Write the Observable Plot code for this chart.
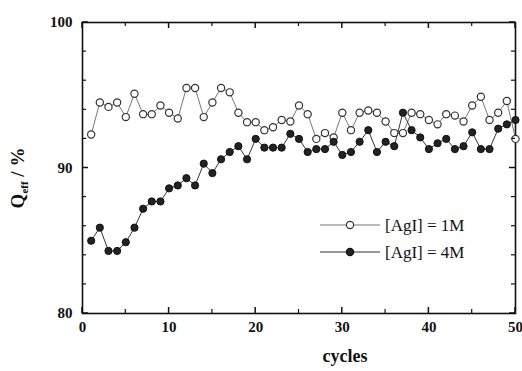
<!DOCTYPE html>
<html>
<head>
<meta charset="utf-8">
<script src="https://cdn.jsdelivr.net/npm/d3@7"></script>
<script src="https://cdn.jsdelivr.net/npm/@observablehq/plot@0.6"></script>
<style>
  html, body { margin: 0; padding: 0; background: #fff; }
  #chart { position: relative; width: 522px; height: 371px; }
</style>
</head>
<body>
<div id="chart"></div>
<script>
const cycles = [1,2,3,4,5,6,7,8,9,10,11,12,13,14,15,16,17,18,19,20,21,22,23,24,25,26,27,28,29,30,31,32,33,34,35,36,37,38,39,40,41,42,43,44,45,46,47,48,49,50];
const q1M = [92.3,94.5,94.2,94.5,93.5,95.1,93.7,93.7,94.3,93.8,93.4,95.5,95.5,93.5,94.5,95.5,95.2,93.8,93.15,93.15,92.6,92.8,93.3,93.2,94.3,93.7,92.0,92.4,92.1,93.8,92.6,93.8,93.95,93.8,93.2,92.4,92.4,93.8,93.7,93.3,93.0,93.7,93.6,93.2,94.3,94.9,93.3,93.8,94.6,92.0];
const q4M = [85.0,85.9,84.3,84.3,84.9,85.9,87.2,87.7,87.7,88.6,88.8,89.3,88.8,90.3,89.65,90.6,91.1,91.5,90.6,92.0,91.4,91.4,91.4,92.35,92.0,91.1,91.3,91.3,91.8,90.9,91.1,91.8,92.6,91.1,91.8,91.5,93.8,92.6,92.1,91.3,91.7,92.0,91.3,91.5,92.45,91.3,91.3,92.7,93.0,93.3];
const seriesNames = ["[AgI] = 1M", "[AgI] = 4M"];
const xTicks = [0,10,20,30,40,50];
const xMinor = [5,15,25,35,45];
const yTicks = [80,90,100];
const yMinor = [82,84,86,88,92,94,96,98];

const d1 = cycles.map((c, i) => ({cycle: c, q: q1M[i]}));
const d4 = cycles.map((c, i) => ({cycle: c, q: q4M[i]}));

const W = 522, H = 371, ML = 82, MR = 7, MT = 22, MB = 58;

const plot = Plot.plot({
  width: W,
  height: H,
  marginLeft: ML,
  marginRight: MR,
  marginTop: MT,
  marginBottom: MB,
  x: {domain: [0, 50]},
  y: {domain: [80, 100]},
  style: {fontFamily: "'Liberation Serif', serif", fontSize: "15px", fontWeight: "bold", color: "#111", background: "#fff"},
  marks: [
    Plot.axisX(xTicks, {anchor: "bottom", tickSize: 0, tickPadding: 8, label: null}),
    Plot.axisY(yTicks, {anchor: "left", tickSize: 0, tickPadding: 10, label: null}),
    Plot.frame({stroke: "#111", strokeWidth: 1.6}),
    Plot.line(d1, {x: "cycle", y: "q", stroke: "#777", strokeWidth: 1}),
    Plot.line(d4, {x: "cycle", y: "q", stroke: "#333", strokeWidth: 1}),
    Plot.dot(d1, {x: "cycle", y: "q", r: 3.6, stroke: "#333", strokeWidth: 1.2, fill: "#fff"}),
    Plot.dot(d4, {x: "cycle", y: "q", r: 3.6, stroke: "#111", strokeWidth: 1, fill: "#222"})
  ]
});

document.getElementById("chart").appendChild(plot);

const svg = d3.select(plot);
const sx = plot.scale("x"), sy = plot.scale("y");
const x0 = sx.apply(0), x1 = sx.apply(50), y0 = sy.apply(80), y1 = sy.apply(100);
const tg = svg.append("g").attr("stroke", "#111");
function tickX(values, len, w) {
  values.forEach(v => {
    const x = sx.apply(v);
    tg.append("line").attr("x1", x).attr("x2", x).attr("y1", y0).attr("y2", y0 - len).attr("stroke-width", w);
    tg.append("line").attr("x1", x).attr("x2", x).attr("y1", y1).attr("y2", y1 + len).attr("stroke-width", w);
  });
}
function tickY(values, len, w) {
  values.forEach(v => {
    const y = sy.apply(v);
    tg.append("line").attr("x1", x0).attr("x2", x0 + len).attr("y1", y).attr("y2", y).attr("stroke-width", w);
    tg.append("line").attr("x1", x1).attr("x2", x1 - len).attr("y1", y).attr("y2", y).attr("stroke-width", w);
  });
}
tickX(xTicks, 6, 1.5);
tickX(xMinor, 4, 1.2);
tickY(yTicks, 6, 1.5);
tickY(yMinor, 4, 1.2);

const yt = svg.append("text")
  .attr("transform", "translate(24,178) rotate(-90)")
  .attr("text-anchor", "middle")
  .attr("font-size", 19)
  .attr("font-weight", "bold")
  .attr("fill", "#111");
yt.append("tspan").text("Q");
yt.append("tspan").attr("font-size", 11).attr("dy", 4).text("eff");
yt.append("tspan").attr("dy", -4).text(" / %");

svg.append("text")
  .attr("x", 345).attr("y", 362)
  .attr("text-anchor", "middle")
  .attr("font-size", 18)
  .attr("font-weight", "bold")
  .attr("fill", "#111")
  .text("cycles");

const leg = svg.append("g").attr("font-size", 17).attr("font-weight", "normal").attr("fill", "#111").attr("text-anchor", "start");
seriesNames.forEach((name, i) => {
  const y = 225 + i * 27;
  leg.append("line").attr("x1", 320).attr("x2", 380).attr("y1", y).attr("y2", y)
    .attr("stroke", i === 0 ? "#777" : "#333").attr("stroke-width", 1);
  leg.append("circle").attr("cx", 350).attr("cy", y).attr("r", 3.6)
    .attr("fill", i === 0 ? "#fff" : "#222").attr("stroke", i === 0 ? "#333" : "#111").attr("stroke-width", 1.2);
  leg.append("text").attr("x", 385).attr("y", y).attr("dy", "0.35em").attr("text-anchor", "start").text(name);
});
</script>
</body>
</html>
